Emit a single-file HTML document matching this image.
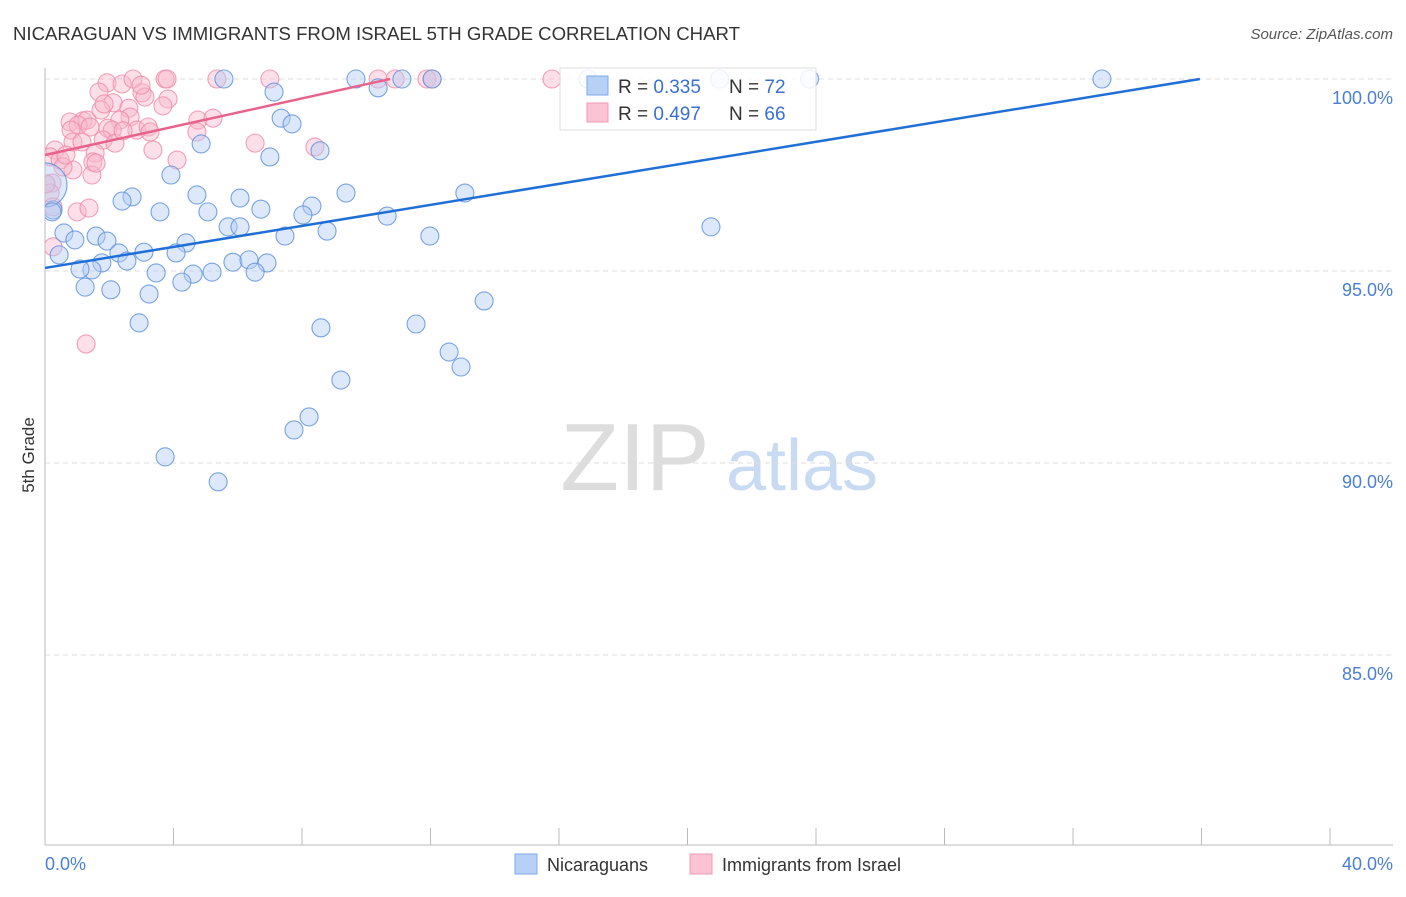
<!DOCTYPE html>
<html><head><meta charset="utf-8"><style>
body{margin:0;background:#fff;font-family:"Liberation Sans",sans-serif}
svg text{font-family:"Liberation Sans",sans-serif}
</style></head><body>
<svg id="chart" width="1406" height="892">
<defs><clipPath id="plotclip"><rect x="45" y="50" width="1360" height="795"/></clipPath></defs>
<text x="13" y="40" font-size="18.6" fill="#333">NICARAGUAN VS IMMIGRANTS FROM ISRAEL 5TH GRADE CORRELATION CHART</text>
<text x="1393" y="39" font-size="15" fill="#555" font-style="italic" text-anchor="end">Source: ZipAtlas.com</text>
<text x="34" y="455" font-size="17" fill="#333" transform="rotate(-90 34 455)" text-anchor="middle">5th Grade</text>
<g>
<text x="635" y="490" font-size="96" fill="#ddd" font-family="Liberation Serif" text-anchor="middle">ZIP</text>
<text x="802" y="490" font-size="72" fill="#c9daf3" text-anchor="middle">atlas</text>
</g>
<g id="grid"></g>
<line x1="45" y1="68" x2="45" y2="845" stroke="#bbb"/>
<line x1="45" y1="845" x2="1393" y2="845" stroke="#bbb"/>
<g id="xticks"></g>
<text x="45" y="870" font-size="18" fill="#4a7fd4">0.0%</text>
<text x="1393" y="870" font-size="18" fill="#4a7fd4" text-anchor="end">40.0%</text>
<g id="pts" clip-path="url(#plotclip)"></g>
<g id="lines"></g>
<g>
<rect x="560" y="68" width="256" height="62" fill="#fff" fill-opacity="0.85" stroke="#ddd"/>
<rect x="587" y="76" width="21" height="19" fill="#b7d0f5" stroke="#7fa8e8"/>
<rect x="587" y="103" width="21" height="19" fill="#fbc3d3" stroke="#f29ab5"/>
<text x="618" y="93" font-size="19" fill="#333">R = <tspan fill="#3a70d0">0.335</tspan></text>
<text x="729" y="93" font-size="19" fill="#333">N = <tspan fill="#3a70d0">72</tspan></text>
<text x="618" y="120" font-size="19" fill="#333">R = <tspan fill="#3a70d0">0.497</tspan></text>
<text x="729" y="120" font-size="19" fill="#333">N = <tspan fill="#3a70d0">66</tspan></text>
</g>
<g>
<rect x="515" y="854" width="22" height="20" fill="#b7d0f5" stroke="#7fa8e8"/>
<text x="547" y="871" font-size="18" fill="#333">Nicaraguans</text>
</g>
<g>
<rect x="690" y="854" width="22" height="20" fill="#fbc3d3" stroke="#f29ab5"/>
<text x="722" y="871" font-size="18" fill="#333">Immigrants from Israel</text>
</g>
</svg>
<script>
const yTicks=[100,95,90,85];
const xTickVals=[0,4,8,12,16,20,24,28,32,36,40];
const blueX=[5.57,9.68,11.11,12.05,16.9,21.0,23.8,32.9,10.37,7.13,7.35,7.69,4.86,7.0,8.56,3.92,4.73,6.07,9.37,13.07,2.71,2.40,0.25,5.07,3.58,6.72,8.31,8.03,10.65,5.70,6.07,20.73,0.59,0.93,1.59,1.93,8.78,7.47,11.98,4.39,3.08,2.30,4.08,0.44,2.55,1.77,5.85,6.35,6.91,1.46,1.09,3.46,4.61,5.20,6.54,1.25,2.05,4.26,3.24,13.67,2.93,8.59,11.55,12.58,12.95,9.21,8.22,7.75,3.74,5.39,0.0,0.22];
const blueY=[100,100,100,100,100,100,100,100,99.77,99.66,98.98,98.83,98.31,97.97,98.13,97.5,96.98,96.9,97.03,97.03,96.93,96.82,96.59,96.54,96.54,96.61,96.69,96.46,96.43,96.15,96.15,96.15,95.99,95.81,95.91,95.78,96.04,95.91,95.91,95.73,95.49,95.47,95.47,95.42,95.26,95.21,95.23,95.29,95.21,95.03,95.05,94.95,94.92,94.97,94.97,94.58,94.51,94.71,94.40,94.22,93.65,93.52,93.62,92.89,92.5,92.16,91.2,90.86,90.16,89.51,97.24,96.54];
const pinkX=[1.93,2.40,2.74,3.74,3.80,5.35,7.0,10.37,10.9,11.89,12.05,1.68,3.02,3.11,3.83,3.67,2.12,1.74,2.61,2.65,0.78,1.18,1.31,1.03,1.40,2.33,1.96,2.09,2.86,3.21,3.27,4.76,5.23,4.73,6.54,8.40,0.81,0.87,1.15,1.81,2.18,1.56,1.49,1.46,0.87,0.31,0.16,0.47,0.56,3.36,4.11,0.22,0.16,1.0,1.37,0.25,0.25,1.28,15.78,1.84,0.65,2.43,1.59,2.99,0.03];
const pinkY=[99.9,99.87,100,100,100,100,100,100,100,100,100,99.66,99.64,99.53,99.48,99.3,99.38,99.19,99.24,99.01,98.88,98.91,98.93,98.8,98.75,98.93,98.72,98.67,98.67,98.75,98.62,98.93,98.98,98.62,98.33,98.23,98.67,98.36,98.36,98.41,98.33,98.07,97.84,97.5,97.63,98.15,97.97,97.89,97.71,98.15,97.89,97.29,97.03,96.54,96.64,96.67,95.63,93.1,100,99.35,98.02,98.65,97.81,99.84,97.27];
const blueLine=[0,95.08,35.95,100];
const pinkLine=[0,98.02,10.74,100];
const ns='http://www.w3.org/2000/svg';
const sx=v=>45+v*32.125, sy=v=>79+(100-v)*38.4;
function mk(t,p,a){const e=document.createElementNS(ns,t);for(const k in a)e.setAttribute(k,a[k]);p.appendChild(e);return e;}
const grid=document.getElementById('grid');
yTicks.forEach(v=>{
 const l=mk('line',grid,{x1:45,x2:1393,y1:sy(v),y2:sy(v),stroke:'#ddd','stroke-dasharray':'5,4'});
 
 
 const t=mk('text',grid,{x:1393,y:sy(v)+25,'font-size':18,fill:'#4a7fd4','text-anchor':'end'});
 t.textContent=v.toFixed(1)+'%';
 
 
});
const xt=document.getElementById('xticks');
xTickVals.forEach(v=>{
 const l=mk('line',xt,{x1:sx(v),x2:sx(v),y1:828,y2:845,stroke:'#bbb'});
 
 
});
const pts=document.getElementById('pts');
function dots(X,Y,fill,stroke,name){X.forEach((x,i)=>{
 const big=(i===X.length-2&&name==='blue-point');
 const c=mk('circle',pts,{cx:sx(x),cy:sy(Y[i]),r:big?22:9,fill:fill,'fill-opacity':0.45,stroke:stroke,'stroke-width':1.1,'stroke-opacity':0.8});
 
 
});}
dots(pinkX,pinkY,'#f9b8cb','#f08aa9','pink-point');
dots(blueX,blueY,'#b3cdf3','#5b8fdc','blue-point');
const lg=document.getElementById('lines');
const bl=mk('line',lg,{x1:sx(blueLine[0]),y1:sy(blueLine[1]),x2:sx(blueLine[2]),y2:sy(blueLine[3]),stroke:'#1f6fd6','stroke-width':2.5});


const pl=mk('line',lg,{x1:sx(pinkLine[0]),y1:sy(pinkLine[1]),x2:sx(pinkLine[2]),y2:sy(pinkLine[3]),stroke:'#e8638c','stroke-width':2.5});


</script>
</body></html>
